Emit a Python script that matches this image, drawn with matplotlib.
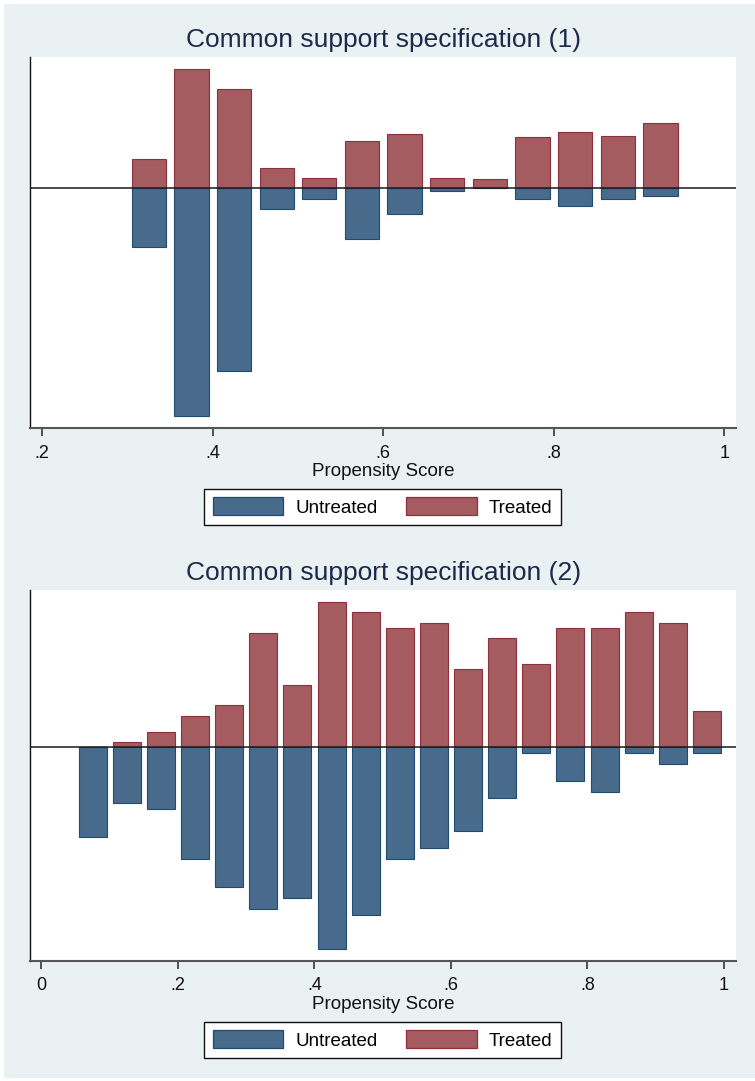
import matplotlib
matplotlib.use("Agg")
import matplotlib.pyplot as plt
from matplotlib.patches import Rectangle, Patch
import numpy as np

plt.rcParams['font.family'] = ['Liberation Sans', 'DejaVu Sans']

# Bin centres (propensity score) and bar heights for each specification
centers1 = [0.325, 0.375, 0.425, 0.475, 0.525, 0.575, 0.625,
            0.675, 0.725, 0.775, 0.825, 0.875, 0.925]
treated1 = [28.7, 119, 99, 19.7, 10.3, 47, 54, 10.3, 9, 50.7, 56, 52.3, 65]
untreated1 = [58.7, 228, 183, 20.7, 11, 50.7, 26.3, 2.7, 0, 10.7, 18.3, 10.7, 8.3]

centers2 = [0.075, 0.125, 0.175, 0.225, 0.275, 0.325, 0.375, 0.425, 0.475,
            0.525, 0.575, 0.625, 0.675, 0.725, 0.775, 0.825, 0.875, 0.925, 0.975]
treated2 = [0, 5, 15.3, 31, 41.7, 114, 62, 145.3, 134.7, 119, 124, 78,
            108.7, 82.7, 119, 119, 134.7, 124, 36]
untreated2 = [90, 56, 61.7, 112.3, 140.3, 162, 151.3, 202.3, 168.3, 112.3,
              100.7, 84.3, 50.7, 5.7, 33.7, 45.3, 5.7, 17.3, 5.7]

ticks1 = [0.2, 0.4, 0.6, 0.8, 1.0]
ticklabels1 = [".2", ".4", ".6", ".8", "1"]
ticks2 = [0.0, 0.2, 0.4, 0.6, 0.8, 1.0]
ticklabels2 = ["0", ".2", ".4", ".6", ".8", "1"]

titles = ["Common support specification (1)", "Common support specification (2)"]
xlabel = "Propensity Score"
legend_labels = ["Untreated", "Treated"]

BLUE_FILL, BLUE_EDGE = "#486b8c", "#1f4a72"
RED_FILL, RED_EDGE = "#a45c61", "#8e2f3b"
BG = "#eaf1f3"
TITLE_COLOR = "#1c2a4c"

W, H = 755, 1081
fig = plt.figure(figsize=(W / 100, H / 100), dpi=100, facecolor="white")

# graph region background, kept behind the axes
fig.patches.append(Rectangle((4 / W, (H - 1078) / H), (W - 4) / W, (1078 - 4) / H,
                             transform=fig.transFigure, facecolor=BG,
                             edgecolor="none", zorder=-10))


def px_box(left, top, right, bottom):
    return [left / W, (H - bottom) / H, (right - left) / W, (bottom - top) / H]


panels = [
    dict(box=px_box(30, 57, 736, 428), centers=centers1, tr=treated1, un=untreated1,
         xlim=(0.1858, 1.0135), ylim=(-239.7, 131), ticks=ticks1, labels=ticklabels1,
         title_y=40, legend_top=489, width=0.0402),
    dict(box=px_box(30, 590, 736, 960.5), centers=centers2, tr=treated2, un=untreated2,
         xlim=(-0.0168, 1.0176), ylim=(-213.5, 157), ticks=ticks2, labels=ticklabels2,
         title_y=573, legend_top=1022, width=0.041),
]

for i, p in enumerate(panels):
    ax = fig.add_axes(p["box"], zorder=1)
    ax.set_facecolor("white")
    ax.bar(p["centers"], p["tr"], width=p["width"], color=RED_FILL,
           edgecolor=RED_EDGE, linewidth=0.8, zorder=2)
    ax.bar(p["centers"], -np.asarray(p["un"]), width=p["width"], color=BLUE_FILL,
           edgecolor=BLUE_EDGE, linewidth=0.8, zorder=2)
    ax.axhline(0, color="#1a1a1a", linewidth=1.1, zorder=3)
    ax.set_xlim(*p["xlim"])
    ax.set_ylim(*p["ylim"])
    ax.set_yticks([])
    ax.set_xticks(p["ticks"])
    ax.set_xticklabels(p["labels"], fontsize=13, color="#111111")
    ax.tick_params(axis="x", length=6, width=1.3, color="#444444", pad=6)
    for s in ("top", "right"):
        ax.spines[s].set_visible(False)
    ax.spines["left"].set_color("#111111")
    ax.spines["left"].set_linewidth(1.0)
    ax.spines["bottom"].set_color("#555555")
    ax.spines["bottom"].set_linewidth(1.5)
    ax.set_xlabel(xlabel, fontsize=13.5, color="#111111", labelpad=1)

    fig.text(384 / W, (H - p["title_y"]) / H, titles[i], ha="center", va="center",
             fontsize=19, color=TITLE_COLOR)

    handles = [Patch(facecolor=BLUE_FILL, edgecolor=BLUE_EDGE, linewidth=0.9),
               Patch(facecolor=RED_FILL, edgecolor=RED_EDGE, linewidth=0.9)]
    leg = fig.legend(handles, legend_labels, loc="upper center", ncol=2,
                     bbox_to_anchor=(382.5 / W, (H - p["legend_top"]) / H),
                     bbox_transform=fig.transFigure, fontsize=13.5,
                     frameon=True, fancybox=False, framealpha=1,
                     edgecolor="#111111", handlelength=3.75, handleheight=1.05,
                     handletextpad=0.65, columnspacing=1.55, borderpad=0.45,
                     borderaxespad=0)
    leg.get_frame().set_linewidth(1.0)

fig.savefig("out.png", dpi=100, facecolor="white")
